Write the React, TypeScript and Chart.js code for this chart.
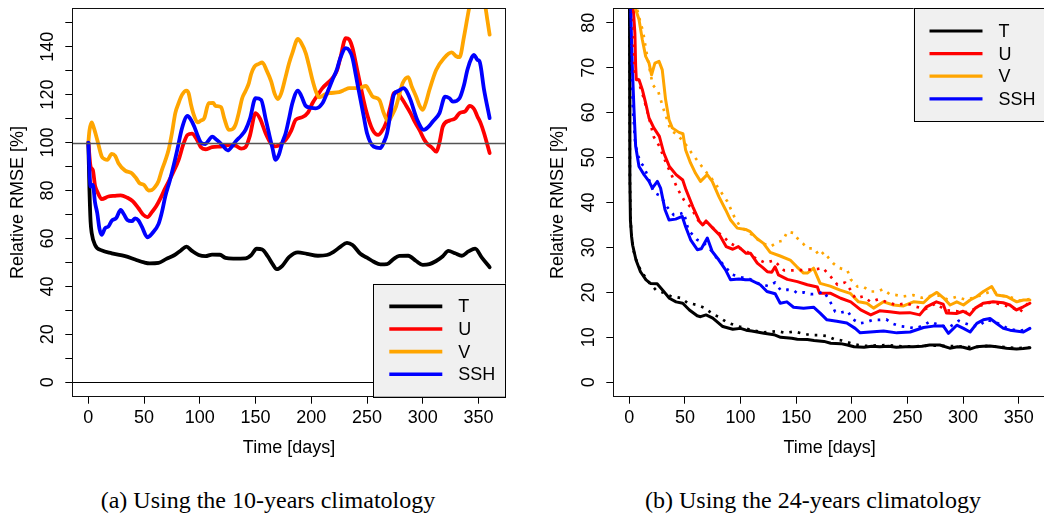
import React, { useEffect, useRef } from "react";
import { Chart, registerables } from "chart.js";

Chart.register(...registerables);

// ---------------- axis definitions ----------------
const xTicks = [0, 50, 100, 150, 200, 250, 300, 350];
const yTicksA = [0, 10, 20, 30, 40, 50, 60, 70, 80, 90, 100, 110, 120, 130, 140, 150];
const yLabelsA = [0, 20, 40, 60, 80, 100, 120, 140];
const yTicksB = [0, 10, 20, 30, 40, 50, 60, 70, 80];
const refLinesA = [100, 0];

const seriesNames = ["T", "U", "V", "SSH"];
const seriesColors = ["#000000", "#ff0000", "#ffa500", "#0000ff"];

// ---------------- panel (a): 10-years climatology ----------------
const T_a: [number, number][] = [
  [0, 100], [1, 80], [2, 67], [3, 62.3], [6, 57.3], [12, 55], [21, 53.8], [33, 52.6], [42, 51.2], [50, 50],
  [55, 49.6], [63, 49.8], [70, 51.5], [77, 53], [83, 55], [88, 56.6], [93, 54.8], [99, 53.1], [105, 52.6],
  [111, 53.3], [118, 53.2], [123, 51.9], [130, 51.6], [141, 51.7], [146, 53], [151, 55.7], [156, 55.4],
  [161, 52.5], [165, 49.5], [169, 47.2], [174, 48.6], [180, 52.2], [188, 54.2], [196, 53.6], [206, 52.8],
  [214, 53.1], [220, 54.4], [226, 56.5], [232, 58.2], [237, 57.3], [244, 53.6], [250, 52], [256, 50.3],
  [262, 49.2], [268, 49.3], [274, 51.5], [279, 52.7], [287, 52.8], [294, 50.6], [300, 49], [306, 49.3],
  [312, 50.6], [318, 52.6], [323, 54.8], [329, 53.8], [335, 52.8], [341, 54.6], [347, 55.8], [353, 52], [360, 48],
];
const U_a: [number, number][] = [
  [0, 100], [2, 90], [4, 88.6], [6, 82], [8, 79.6], [12, 76.4], [18, 77.5], [24, 77.8], [29, 78], [35, 77],
  [40, 75.5], [45, 72.6], [49, 70], [53, 68.9], [57, 71], [61, 73.5], [65, 77], [69, 81], [75, 86.5], [81, 92.8],
  [85, 99], [89, 103.2], [93, 103.7], [97, 101.5], [101, 98], [105, 97.2], [111, 98.1], [120, 98.4], [127, 99],
  [132, 98.7], [137, 97.5], [141, 98.1], [145, 103], [150, 112.3], [154, 110], [159, 103.9], [164, 99.5],
  [168, 98.4], [173, 99.5], [177, 101.1], [182, 105], [186, 109.5], [192, 110.6], [197, 112.5], [201, 116.4],
  [206, 120], [210, 122.7], [219, 126.9], [223, 130], [226, 135.2], [231, 143.6], [234, 143], [237, 139.4],
  [240, 133], [243, 126.2], [249, 113.6], [255, 105.3], [260, 103.2], [263, 104.5], [267, 108.1], [271, 115],
  [274, 120.6], [277, 121], [280, 119.2], [285, 115.5], [289, 112.3], [293, 108.5], [297, 105.3], [301, 101.5],
  [304, 99.5], [308, 98], [312, 96.2], [315, 100], [318, 106.7], [324, 109.2], [329, 110], [333, 112.3],
  [338, 113], [342, 115.3], [346, 114], [349, 110.9], [352, 108], [355, 103.9], [360, 95.6],
];
const V_a: [number, number][] = [
  [0, 100], [1, 105], [3, 108.4], [5, 106], [8, 101.1], [12, 94.2], [15, 93], [17, 92.8], [21, 95.3], [24, 94.5],
  [27, 91.4], [33, 88.3], [39, 87.2], [43, 85], [46, 83], [50, 82.3], [54, 80], [57, 80.2], [60, 81.6], [63, 84],
  [66, 88.6], [69, 92.5], [72, 97], [75, 104], [78, 112.3], [81, 116.5], [84, 119.9], [88, 121.7], [90, 120.5],
  [92, 116], [95, 111], [98, 108.4], [101, 109.2], [104, 110.2], [108, 116.4], [112, 116.5], [114, 115.3],
  [119, 114.8], [122, 110], [126, 105.3], [129, 105.5], [132, 107.4], [135, 112.5], [138, 118.5], [141, 121.5],
  [144, 124.8], [146, 128.5], [149, 131.7], [153, 132.8], [156, 133.4], [160, 130], [164, 125.5], [167, 120.5],
  [170, 118.1], [173, 120.5], [177, 127.5], [180, 133], [183, 137.3], [188, 143.2], [191, 141.5], [195, 137.3],
  [198, 132], [201, 126.2], [204, 121.5], [207, 118.9], [212, 120], [216, 120.6], [225, 121], [230, 122],
  [234, 122.7], [243, 122.7], [249, 123.6], [252, 121.5], [255, 119.2], [261, 117.8], [265, 112.3], [269, 108.8],
  [272, 111], [276, 115], [279, 120], [282, 124.8], [287, 127.3], [290, 123.5], [294, 119.2], [297, 115.5],
  [300, 113.6], [303, 117], [306, 122], [312, 130.3], [319, 135.2], [326, 137.6], [330, 136], [333, 135.6],
  [337, 144.2], [340, 152], [342, 157], [345, 162], [349, 164], [353, 161], [356, 157], [358, 151], [360, 145],
];
const SSH_a: [number, number][] = [
  [0, 100], [2, 81.6], [4, 82.3], [6, 75], [8, 70.5], [10, 64], [12, 61.5], [15, 64.3], [18, 65], [21, 67.4],
  [25, 68.5], [29, 71.9], [32, 70], [35, 67.7], [39, 67.2], [42, 68.4], [45, 67.5], [48, 64.9], [53, 60.5],
  [57, 62], [63, 66.1], [66, 71], [69, 77.5], [73, 84], [77, 91.4], [80, 97.5], [84, 106], [89, 111.1], [92, 109.5],
  [95, 106.7], [98, 103], [101, 100], [105, 99.4], [108, 101], [111, 102.5], [115, 101.2], [117, 100.4],
  [121, 98.5], [125, 96.7], [129, 98.5], [132, 100.4], [137, 102.8], [141, 105.3], [145, 110], [150, 118.5],
  [155, 117.8], [159, 110], [162, 103.9], [165, 98], [168, 92.8], [171, 95], [174, 100], [177, 103.9], [180, 110],
  [183, 116.4], [188, 121.7], [191, 119.5], [195, 115.3], [199, 114.6], [204, 114.3], [210, 116.4], [214, 120.5],
  [219, 126.2], [223, 130.5], [226, 135.2], [231, 139.4], [234, 138.5], [237, 135.2], [240, 128], [243, 120.6],
  [247, 111], [250, 103.9], [256, 98.3], [262, 97.7], [265, 100], [268, 103.9], [271, 112], [274, 119.9],
  [278, 121.5], [283, 122.7], [286, 121], [289, 117.8], [295, 109.5], [301, 105.3], [305, 106.5], [309, 108.8],
  [315, 112.3], [320, 119.2], [324, 118.5], [327, 117.1], [333, 118.5], [337, 124], [340, 130.3], [344, 135.5],
  [346, 136.6], [349, 134.5], [351, 133.8], [355, 122], [360, 110.2],
];

// ---------------- panel (b): 24-years climatology (solid) ----------------
const T_b: [number, number][] = [
  [0, 100], [0.5, 45], [1, 36], [2, 32.5], [3, 30.5], [6, 27.2], [10, 24.6], [15, 22.8], [19, 22], [25, 21.9],
  [30, 20.5], [36, 18.7], [42, 17.9], [48, 17.6], [54, 16.1], [61, 14.8], [64, 14.6], [69, 15], [75, 14.3],
  [84, 12.4], [93, 11.8], [100, 12], [105, 11.6], [110, 11.4], [121, 10.9], [130, 10.6], [136, 10], [146, 9.8],
  [151, 9.6], [160, 9.5], [166, 9.3], [175, 9.1], [181, 8.7], [190, 8.6], [196, 8.3], [202, 7.9], [211, 7.8],
  [218, 8], [225, 7.9], [233, 8], [240, 7.8], [248, 7.9], [255, 7.9], [263, 8], [270, 8.3], [279, 8.3], [288, 7.6],
  [295, 7.9], [300, 7.8], [306, 7.4], [312, 7.9], [318, 8], [324, 8.1], [330, 7.9], [339, 7.6], [348, 7.4],
  [354, 7.5], [360, 7.7],
];
const U_b: [number, number][] = [
  [0, 100], [2, 92], [3.6, 83], [5, 77.7], [5.7, 70.3], [6.3, 67.3], [8.7, 67.3], [11.7, 65.1], [14.7, 62.1],
  [17.7, 58.8], [22, 56.6], [27, 54.7], [31, 51], [36, 48], [42, 46.2], [48, 45], [51, 42.8], [57, 39.1],
  [63, 35.8], [66, 35], [69, 35.9], [75, 34.3], [81, 32.8], [87, 30.2], [93, 29.6], [98, 30.2], [105, 28.7],
  [109, 28.7], [115, 26.5], [120, 25.5], [124, 24.6], [128, 24.5], [131, 25.7], [134, 23.9], [142, 22.9],
  [151, 22.4], [160, 21.7], [169, 21.2], [171, 19.8], [181, 19.8], [190, 18.7], [199, 17.9], [208, 16.1],
  [217, 15], [225, 15.9], [234, 15.7], [243, 15.4], [252, 15.5], [261, 15], [267, 16.8], [276, 17.9], [282, 17.4],
  [285, 15.4], [294, 15.3], [300, 15.8], [306, 15], [311, 16.5], [318, 17.6], [327, 17.9], [336, 17.7],
  [342, 17.2], [348, 16.1], [354, 16.8], [360, 17.6],
];
const V_b: [number, number][] = [
  [0, 100], [4, 90], [5.7, 83], [8.7, 80.7], [11.7, 76.2], [14.7, 72.5], [17.7, 71], [20, 68.4], [23, 71],
  [26.7, 71.4], [29.6, 69.5], [32.6, 62.9], [35.7, 58.4], [38.6, 56.6], [44.6, 55.6], [48.2, 55.3], [50.6, 51.7],
  [55, 48.8], [59.5, 46.5], [64, 44.7], [70, 46.2], [74.5, 44.7], [80.5, 41.3], [86.5, 38.4], [91, 36.1],
  [97, 34.3], [104.5, 34], [108.7, 33.5], [114.7, 32], [120.6, 30.9], [126.6, 28.9], [135.6, 28.1], [144.6, 27.2],
  [150.6, 25.7], [156.6, 24.3], [160, 24.3], [165.6, 25.4], [171.5, 22], [180.5, 21.4], [189.5, 20.5],
  [198.5, 19.8], [206, 17.9], [213.5, 17.6], [219.5, 16.5], [228.5, 17.9], [237.4, 17.2], [246.4, 17],
  [255.4, 17.9], [264.4, 17.7], [270.4, 19.1], [276.4, 20], [282.3, 18.8], [288.3, 17.2], [294.3, 17.9],
  [300.3, 17.2], [306.3, 18.3], [312.3, 19.1], [318.2, 20.2], [325.7, 21.3], [330.2, 19.4], [339.2, 19.1],
  [348.2, 17.9], [354.2, 18.3], [360, 18.3],
];
const SSH_b: [number, number][] = [
  [0, 100], [1.2, 83], [2.7, 70.3], [4.2, 60.6], [5.7, 52.5], [8.7, 48], [13.2, 46.2], [17.7, 44.7], [20.7, 43.2],
  [25.2, 44.7], [28.1, 43.2], [32.1, 38.4], [35.7, 36.1], [41.6, 36.3], [47.6, 36.9], [50.6, 34.6], [55.1, 31.7],
  [61.1, 29.5], [64.7, 29.7], [70.1, 32.1], [74.5, 29.1], [80.5, 27.2], [86.5, 25], [91, 22.8], [98.5, 23],
  [104.5, 22.8], [108.7, 22.8], [117.7, 21.7], [123.7, 20.2], [131.1, 19.7], [135.6, 17.6], [141.6, 17.9],
  [147.6, 16.7], [156.6, 16.5], [165.6, 16.7], [171.5, 15.4], [177.6, 13.9], [186.5, 13.6], [195.5, 13.2],
  [203, 12], [207.5, 11], [216.5, 11.2], [228.5, 11.4], [240.4, 11], [252.4, 11.2], [264.4, 12.2], [273.4, 12.5],
  [282.3, 12.5], [286.8, 10.9], [294.3, 12.7], [300.3, 12], [306.3, 11.2], [312.3, 13.1], [318.2, 13.9],
  [324.2, 14.2], [330.2, 13.1], [336.2, 12], [342.2, 11.6], [354.2, 11.2], [360, 12],
];

// ---------------- panel (b): dotted companions ----------------
const T_bDot: [number, number][] = [
  [0, 100], [0.5, 46], [1, 37], [2, 32], [4, 29.1], [6, 27.3], [10, 25], [17, 22.4], [24, 20.5], [30, 20],
  [37, 19.2], [47, 18.7], [52, 17.7], [61, 17.2], [68, 16.5], [76, 15], [80, 14.6], [88, 13.3], [96, 12.6],
  [103, 12.1], [110, 11.6], [121, 11.1], [133, 11.4], [140, 11], [148, 11.3], [155, 10.9], [163, 10.5],
  [170, 10.5], [178, 10.3], [184, 9.6], [191, 9.3], [199, 8.7], [206, 8.3], [212, 8.1], [222, 8.2], [232, 8.3],
  [245, 8], [258, 8], [270, 8.2], [282, 8.1], [296, 8], [310, 7.8], [322, 8.1], [335, 7.9], [348, 7.6], [360, 7.7],
];
const U_bDot: [number, number][] = [
  [0, 100], [2, 85], [3.3, 74], [4.2, 69.5], [8, 67], [12, 64], [17, 59.5], [22, 54.6], [27, 52.5], [33, 48.8],
  [40, 45], [43, 43.2], [49, 40.6], [55, 39], [62, 36], [70, 35.5], [77, 33.9], [84, 32.5], [91, 30.9], [98, 30],
  [106, 29], [114, 27.5], [122, 26.6], [130, 27.1], [139, 24.9], [146, 24.9], [158, 25], [169, 25.2], [174, 25.4],
  [181, 23.5], [187, 21.7], [194, 22.2], [199, 20.5], [203, 18.7], [210, 19.1], [217, 17.9], [224, 18.5],
  [232, 17.8], [240, 17.2], [249, 17.6], [258, 16.8], [266, 16.3], [275, 17.5], [285, 16], [295, 15.8],
  [305, 15.6], [315, 17], [325, 17.8], [335, 17.3], [345, 16.5], [351, 15.6], [356, 17], [360, 18],
];
const V_bDot: [number, number][] = [
  [0, 100], [3, 95], [5, 88], [7, 83], [10, 80], [12.3, 78.1], [15, 74], [18, 70], [21, 66.2], [26, 64.7],
  [31, 60.6], [37, 56.2], [43, 55], [49, 53.5], [56, 51], [64, 48.4], [70, 46.5], [76, 44.7], [83, 42.1],
  [88, 40.3], [94, 37], [100, 34.5], [107, 33.5], [114, 32], [120, 30.9], [127, 30.2], [134, 31.3], [138, 31.5],
  [142, 33.5], [148, 33.2], [150, 32.3], [156, 30.9], [160, 29.8], [166, 29.8], [171, 28.1], [175, 29],
  [179, 27.7], [183, 26.5], [189, 25.4], [196, 24.9], [199, 22.9], [205, 21.3], [210, 21.3], [217, 20.2],
  [223, 20.2], [228, 20.7], [234, 19.6], [240, 19.4], [246, 19.1], [255, 19.4], [263, 18.8], [270, 19.2],
  [278, 19.3], [286, 18.4], [294, 19], [302, 18.4], [310, 18.8], [318, 19.6], [326, 20.3], [334, 19.3],
  [342, 19], [350, 18.2], [360, 18.5],
];
const SSH_bDot: [number, number][] = [
  [0, 100], [1, 85], [3, 62], [5, 54], [7, 51], [10, 49], [13, 48], [16, 46.2], [22, 42.2], [28, 41.5], [34, 39],
  [40, 37.2], [46, 37.5], [49, 37.8], [53, 33.9], [61, 31.7], [67, 31], [73, 29.5], [79, 27.5], [85, 26.1],
  [92, 24], [100, 23.4], [108, 23], [116, 22], [125, 21.4], [131, 22.2], [136, 20.5], [142, 20.6], [148, 20.4],
  [151, 19.8], [157, 20], [163, 19.6], [169, 19.7], [175, 20.2], [181, 17.7], [185, 15.7], [190, 15.5],
  [196, 15.9], [201, 14], [207, 13.1], [212, 13.3], [219, 13.9], [225, 13.9], [231, 14], [236, 13.1],
  [243, 12.5], [250, 12.3], [257, 12], [264, 12.6], [270, 13.5], [280, 12.6], [288, 12.3], [296, 13.7],
  [302, 13.1], [308, 12.6], [314, 12.5], [321, 13.9], [330, 13.3], [340, 12], [350, 11.4], [360, 12],
];

const FONT = "Liberation Sans";

const toXY = (pts: [number, number][]) => pts.map(([x, y]) => ({ x, y }));

function lineDs(pts: [number, number][], color: string, width: number, order: number, smooth: boolean, dash?: number[]) {
  return {
    data: toXY(pts),
    borderColor: color,
    backgroundColor: color,
    borderWidth: width,
    pointRadius: 0,
    fill: false,
    order,
    clip: 0,
    tension: smooth ? 0.4 : 0,
    cubicInterpolationMode: smooth ? "monotone" : "default",
    borderDash: dash || [],
    borderCapStyle: dash ? "butt" : "round",
    borderJoinStyle: "round",
  } as any;
}

function makeAxisCommon() {
  return {
    grid: { drawOnChartArea: false, drawTicks: true, tickLength: 7, color: "#000", tickColor: "#000", lineWidth: 1 },
    border: { display: false },
  };
}

function framePlugin(id: string, opts: { refLines: number[]; legendCorner: "br" | "tr"; legendW: number; legendH: number; lineW: number }) {
  return {
    id,
    afterDatasetsDraw(chart: any) {
      const { ctx, chartArea: a, scales } = chart;
      ctx.save();
      // reference lines
      ctx.beginPath();
      ctx.rect(a.left, a.top, a.right - a.left, a.bottom - a.top);
      ctx.clip();
      opts.refLines.forEach((v) => {
        const y = Math.round(scales.y.getPixelForValue(v)) + 0.5;
        ctx.beginPath();
        ctx.strokeStyle = v === 0 ? "#000" : "#555";
        ctx.lineWidth = v === 0 ? 1 : 1.5;
        ctx.moveTo(a.left, y);
        ctx.lineTo(a.right, y);
        ctx.stroke();
      });
      ctx.restore();
      ctx.save();
      // plot box
      ctx.strokeStyle = "#111";
      ctx.lineWidth = 1;
      ctx.strokeRect(Math.round(a.left) + 0.5, Math.round(a.top) + 0.5, Math.round(a.right - a.left), Math.round(a.bottom - a.top));
      // legend
      const bx = a.right - opts.legendW;
      const by = opts.legendCorner === "br" ? a.bottom - opts.legendH : a.top;
      ctx.fillStyle = "#f0f0f0";
      ctx.fillRect(bx, by, opts.legendW, opts.legendH);
      ctx.strokeStyle = "#000";
      ctx.strokeRect(Math.round(bx) + 0.5, Math.round(by) + 0.5, Math.round(opts.legendW), Math.round(opts.legendH));
      ctx.font = `18px "${FONT}"`;
      ctx.textBaseline = "middle";
      ctx.textAlign = "left";
      seriesNames.forEach((name, i) => {
        const ry = by + 22.7 + i * 22.6;
        ctx.beginPath();
        ctx.strokeStyle = seriesColors[i];
        ctx.lineWidth = opts.lineW;
        ctx.lineCap = "butt";
        ctx.moveTo(bx + 16, ry);
        ctx.lineTo(bx + 69, ry);
        ctx.stroke();
        ctx.fillStyle = "#000";
        ctx.fillText(name, bx + 85, ry + 1);
      });
      ctx.restore();
    },
  };
}

function buildConfig(panel: "a" | "b") {
  const isA = panel === "a";
  const dotDash = [2.6, 6];
  const datasets = isA
    ? [
        lineDs(T_a, seriesColors[0], 3.8, 4, true),
        lineDs(U_a, seriesColors[1], 3.8, 3, true),
        lineDs(V_a, seriesColors[2], 3.8, 2, true),
        lineDs(SSH_a, seriesColors[3], 3.8, 1, true),
      ]
    : [
        lineDs(T_b, seriesColors[0], 3, 4, false),
        lineDs(U_b, seriesColors[1], 3, 3, false),
        lineDs(V_b, seriesColors[2], 3, 2, false),
        lineDs(SSH_b, seriesColors[3], 3, 1, false),
        lineDs(T_bDot, seriesColors[0], 2.7, -1, false, dotDash),
        lineDs(U_bDot, seriesColors[1], 2.7, -2, false, dotDash),
        lineDs(V_bDot, seriesColors[2], 2.7, -3, false, dotDash),
        lineDs(SSH_bDot, seriesColors[3], 2.7, -4, false, dotDash),
      ];
  const yTicks = isA ? yTicksA : yTicksB;
  const common = makeAxisCommon();
  return {
    type: "line",
    data: { datasets },
    options: {
      animation: false,
      responsive: false,
      devicePixelRatio: 1,
      layout: { padding: { left: 0, top: 8.3, right: isA ? 24.3 : 14.1, bottom: 0 } },
      plugins: { legend: { display: false }, tooltip: { enabled: false }, title: { display: false } },
      scales: {
        x: {
          type: "linear",
          min: -14.4,
          max: 374.4,
          afterBuildTicks: (s: any) => {
            s.ticks = xTicks.map((v) => ({ value: v }));
          },
          ...common,
          ticks: { autoSkip: false, maxRotation: 0, padding: 3.8, color: "#000", font: { family: FONT, size: 18 } },
          title: { display: true, text: "Time [days]", color: "#000", font: { family: FONT, size: 18 }, padding: { top: 0, bottom: 10.9 } },
          afterFit: (s: any) => {
            s.height = 73.3;
            s.paddingLeft = 0;
            s.paddingRight = 0;
          },
        },
        y: {
          type: "linear",
          min: isA ? -6 : -3.2,
          max: isA ? 156 : 83.2,
          afterBuildTicks: (s: any) => {
            s.ticks = yTicks.map((v) => ({ value: v }));
          },
          ...common,
          ticks: {
            autoSkip: false,
            minRotation: 90,
            maxRotation: 90,
            crossAlign: "center",
            padding: isA ? 2 : 7,
            color: "#000",
            font: { family: FONT, size: 18 },
            callback: (v: number) => (isA ? (yLabelsA.includes(v) ? String(v) : "") : String(v)),
          },
          title: {
            display: true,
            text: "Relative RMSE [%]",
            color: "#000",
            font: { family: FONT, size: 18 },
            padding: { top: isA ? 7.5 : 17.5, bottom: 0 },
          },
          afterFit: (s: any) => {
            s.width = isA ? 72.3 : 83.3;
            s.paddingTop = 0;
            s.paddingBottom = 0;
          },
        },
      },
    },
    plugins: [
      framePlugin("frame" + panel, {
        refLines: isA ? refLinesA : [],
        legendCorner: isA ? "br" : "tr",
        legendW: 132.4,
        legendH: isA ? 113 : 112.7,
        lineW: isA ? 3.6 : 3.2,
      }),
    ],
  } as any;
}

export default function App() {
  const refA = useRef<HTMLCanvasElement>(null);
  const refB = useRef<HTMLCanvasElement>(null);

  useEffect(() => {
    const ca = new Chart(refA.current as HTMLCanvasElement, buildConfig("a"));
    const cb = new Chart(refB.current as HTMLCanvasElement, buildConfig("b"));
    return () => {
      ca.destroy();
      cb.destroy();
    };
  }, []);

  const captionStyle: React.CSSProperties = {
    position: "absolute",
    top: 485,
    width: 530,
    textAlign: "center",
    fontFamily: '"Liberation Serif", serif',
    fontSize: 24,
    lineHeight: "30px",
    color: "#000",
    whiteSpace: "nowrap",
  };

  return (
    <div style={{ position: "fixed", left: 0, top: 0, width: 1044, height: 521, overflow: "hidden", background: "#fff" }}>
      <canvas ref={refA} width={530} height={470} style={{ position: "absolute", left: 0, top: 0 }} />
      <canvas ref={refB} width={530} height={470} style={{ position: "absolute", left: 530, top: 0 }} />
      <div style={{ ...captionStyle, left: 3 }}>(a) Using the 10-years climatology</div>
      <div style={{ ...captionStyle, left: 548 }}>(b) Using the 24-years climatology</div>
    </div>
  );
}
